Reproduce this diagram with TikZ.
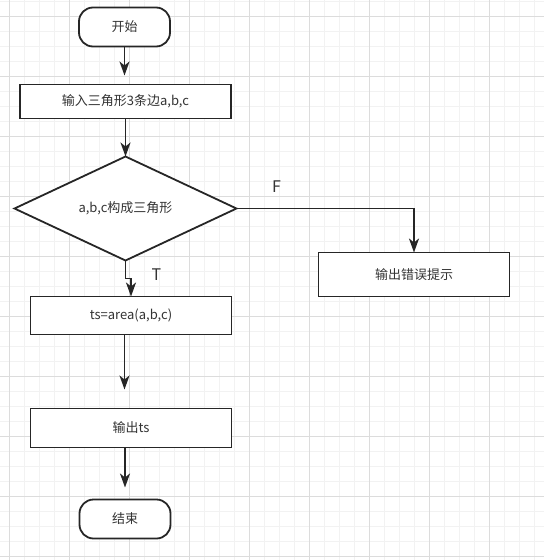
\documentclass[tikz,border=0pt]{standalone}
\usepackage{fontspec}
\newfontfamily\cjk{Noto Sans CJK SC}
\usetikzlibrary{positioning,shapes.geometric,arrows.meta}
\definecolor{linec}{HTML}{262626}
\definecolor{textc}{HTML}{333333}
\definecolor{gridminor}{HTML}{F2F2F2}
\definecolor{gridmajor}{HTML}{DCDCDC}
\tikzset{
 box/.style={draw=linec, fill=white, line width=1.8pt, inner sep=0pt, outer sep=0pt,
  text=textc, font=\cjk\fontsize{13}{15}\selectfont},
 terminal/.style={box, rounded corners=14pt, minimum width=91pt, minimum height=39pt},
 decision/.style={box, diamond, aspect=2.13, minimum width=222pt, minimum height=104pt},
 flow/.style={draw=linec, line width=1.8pt, -{Stealth[length=14pt,width=10pt,inset=4pt]}},
 lbl/.style={text=textc, font=\cjk\fontsize{16}{18}\selectfont, inner sep=0pt},
 gminor/.style={draw=gridminor, line width=0.8pt},
 gmajor/.style={draw=gridmajor, line width=0.9pt}
}
\begin{document}
\begin{tikzpicture}[x=1pt,y=-1pt]
 \useasboundingbox (0,0) rectangle (544,560);
 \foreach \gx in {9,24,...,539} \draw[gminor] (\gx,0) -- (\gx,560);
 \foreach \gy in {1,16,...,556} \draw[gminor] (0,\gy) -- (544,\gy);
 \foreach \gx in {9,69,...,489} \draw[gmajor] (\gx,0) -- (\gx,560);
 \foreach \gy in {16,76,...,556} \draw[gmajor] (0,\gy) -- (544,\gy);

 \node[terminal] (start) at (124.5,27) {开始};
 \node[box, minimum width=211pt, minimum height=34pt, below=38pt of start, xshift=1pt] (input) {输入三角形3条边a,b,c};
 \node[decision, below=38pt of input] (check) {a,b,c构成三角形};
 \node[box, minimum width=201pt, minimum height=38pt, below=36pt of check, xshift=5.5pt] (area) {ts=area(a,b,c)};
 \node[box, minimum width=201pt, minimum height=39pt, below=74pt of area] (output) {输出ts};
 \node[terminal, below=52pt of output, xshift=-6pt] (stop) {结束};
 \node[box, minimum width=191pt, minimum height=44pt, below right=44pt and 82pt of check.east] (error) {输出错误提示};
 \node[lbl] (T) at ([xshift=31pt, yshift=-14pt]check.south) {T};
 \node[lbl] (F) at ([xshift=40pt, yshift=22pt]check.east) {F};

 \draw[flow, shorten >=9pt] (start.south) -- (start.south |- input.north);
 \draw[flow] (input.south -| check.north) -- (check.north);
 \draw[flow] (check.south) -- ++(0,18) -| (area.north);
 \draw[flow] (check.east) -| (error.north);
 \draw[flow, shorten >=19pt] (area.south -| start.south) -- (output.north -| start.south);
 \draw[flow, shorten >=12pt] (output.south -| stop.north) -- (stop.north);
\end{tikzpicture}
\end{document}
